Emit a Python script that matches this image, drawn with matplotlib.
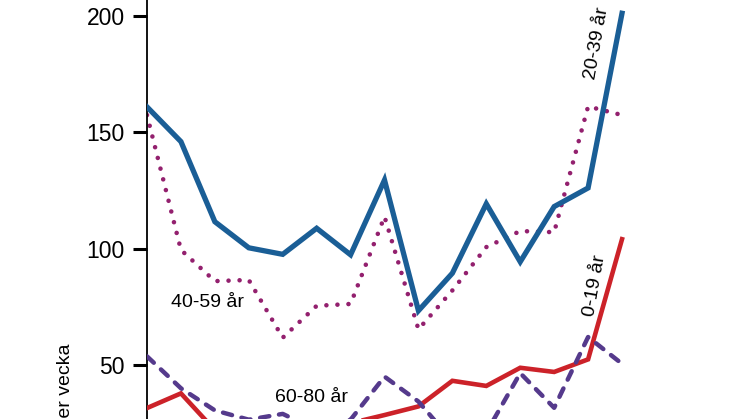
import matplotlib
matplotlib.use("Agg")
from matplotlib import pyplot as plt

plt.rcParams['font.family'] = ['Liberation Sans', 'DejaVu Sans']

# weeks (index) and cases per week for each age group
vecka = list(range(15))
ar_0_19 = [31.5, 37.8, 22, 20, 19, 21, 25, 28.5, 32.2, 43.2, 41, 48.8, 47, 52.4, 104]
ar_20_39 = [160.8, 145.9, 111.5, 100.3, 97.5, 108.7, 97.3, 129.4, 73.3, 89.4, 119.2, 94.3, 118, 126, 201]
ar_40_59 = [157.3, 99.4, 86, 86.5, 61.7, 75.4, 76.2, 113.7, 65.3, 82, 100.6, 107.5, 107, 161, 157.3]
ar_60_80 = [53.7, 40, 30.5, 26.5, 29, 22, 26.5, 45, 34.3, 17.3, 21, 46.5, 31.6, 62, 50.5]

yticks = [0, 50, 100, 150, 200]

fig = plt.figure(figsize=(7.46, 4.19), dpi=100)
ax = fig.add_axes([147/746, 0, 599/746, 1])

ax.plot(vecka, ar_40_59, color='#93206e', linewidth=3.3, linestyle=(0, (0.01, 2.4)),
        dash_capstyle='round', zorder=2)
ax.plot(vecka, ar_20_39, color='#1a5e96', linewidth=3.8, solid_joinstyle='miter', zorder=3)
ax.plot(vecka, ar_0_19, color='#cc2229', linewidth=3.3, solid_joinstyle='miter', zorder=3)
ax.plot(vecka, ar_60_80, color='#553a8c', linewidth=3.2, linestyle=(0, (2.1, 2.2)),
        dash_capstyle='round', zorder=4)

ax.set_yticks(yticks)
ax.set_xticks([])
ax.set_xlim(0, 599/33.93)
ax.set_ylim(26.8, 206.7)
for s in ['top', 'right', 'bottom']:
    ax.spines[s].set_visible(False)
ax.spines['left'].set_linewidth(1.3)
ax.tick_params(axis='y', length=10, width=2.2, pad=6, labelsize=16.5)

ax.text(0.71, 75.0, '40-59 år', fontsize=14, ha='left', va='baseline')
ax.text(3.77, 33.9, '60-80 år', fontsize=14, ha='left', va='baseline')
ax.text(13.26, 188.3, '20-39 år', fontsize=14, ha='center', va='center',
        rotation=80, rotation_mode='anchor')
ax.text(13.2, 83.9, '0-19 år', fontsize=14, ha='center', va='center',
        rotation=80, rotation_mode='anchor')

fig.text(65/746, 1 - 343/419, 'Antal fall per vecka', fontsize=14, rotation=90,
         ha='center', va='top')

fig.savefig('out.png', dpi=100)
